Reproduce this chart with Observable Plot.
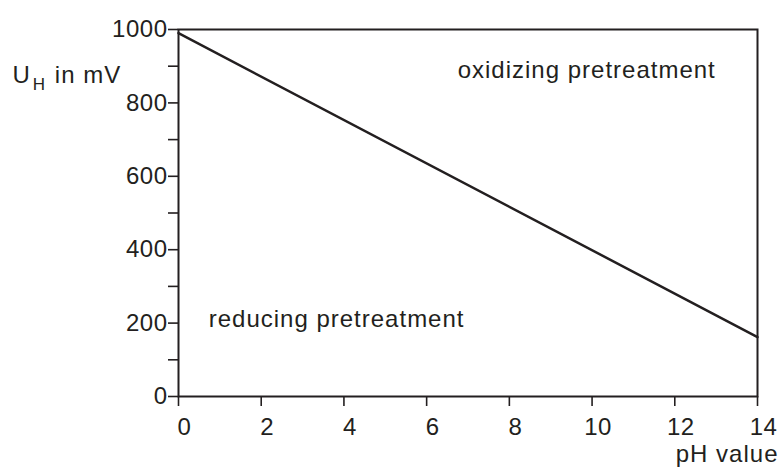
<!DOCTYPE html>
<html><head><meta charset="utf-8">
<script src="https://cdn.jsdelivr.net/npm/d3@7"></script>
<script src="https://cdn.jsdelivr.net/npm/@observablehq/plot@0.6"></script>
<style>
body{margin:0;background:#fff}
#chart svg{font-family:"Liberation Sans",Arial,sans-serif;display:block}
#chart svg g[aria-label="x-axis tick label"] text, #chart svg g[aria-label="y-axis tick label"] text{letter-spacing:0.5px}
#chart svg g.lbl text{letter-spacing:1px}
</style>
</head><body><div id="chart"></div>
<script>
// Data
const pH = [0, 14];
const uH = [990, 162];
const xTicks = [0, 2, 4, 6, 8, 10, 12, 14];
const yTicks = [0, 100, 200, 300, 400, 500, 600, 700, 800, 900, 1000];
const yLabelTicks = [0, 200, 400, 600, 800, 1000];
const regionLabels = ["oxidizing pretreatment", "reducing pretreatment"];
const regionX = [6.75, 0.73];
const regionY = [890, 209];
const xTitle = "pH value";
const yTitleMain = "U", yTitleSub = "H", yTitleRest = " in mV";

const lineData = pH.map((p, i) => ({pH: p, u: uH[i]}));
const regionData = regionLabels.map((t, i) => ({t, x: regionX[i], y: regionY[i]}));
const ink = "#231f20";

const svg = Plot.plot({
  width: 784, height: 471,
  marginLeft: 178, marginRight: 27, marginTop: 29, marginBottom: 75,
  style: {fontSize: "24px", fontFamily: "'Liberation Sans', Arial, sans-serif", color: ink, background: "#fff", overflow: "visible"},
  x: {domain: [0, 14]},
  y: {domain: [0, 1000]},
  marks: [
    Plot.axisX({ticks: xTicks, tickSize: 10, tickFormat: () => "", strokeWidth: 1.6, label: null}),
    Plot.axisX({ticks: xTicks, tickSize: 0, tickPadding: 21, dx: 6, label: null, fontSize: 24}),
    Plot.axisY({ticks: yTicks, tickFormat: d => yLabelTicks.includes(d) ? String(d) : "", tickSize: 10, tickPadding: 1, strokeWidth: 1.6, label: null, fontSize: 24}),
    Plot.frame({stroke: ink, strokeWidth: 2}),
    Plot.line(lineData, {x: "pH", y: "u", stroke: ink, strokeWidth: 2.5}),
    Plot.text(regionData, {x: "x", y: "y", text: "t", textAnchor: "start", fill: ink, fontSize: 24, className: "lbl"}),
    Plot.text([xTitle], {frameAnchor: "bottom-right", textAnchor: "end", dx: 21, dy: 65, fill: ink, fontSize: 24, className: "lbl"}),
    Plot.text([yTitleMain], {frameAnchor: "top-left", textAnchor: "start", dx: -166, dy: 36, fill: ink, fontSize: 24, className: "lbl ytitle"})
  ]
});

// Build subscript in the y title
const t = d3.select(svg).select("g.ytitle text");
t.text(null);
t.append("tspan").text(yTitleMain);
t.append("tspan").attr("font-size", 17).attr("dy", 7).attr("dx", 2).text(yTitleSub);
t.append("tspan").attr("dy", -7).attr("dx", 1).text(yTitleRest);

document.getElementById("chart").append(svg);
</script>
</body></html>
